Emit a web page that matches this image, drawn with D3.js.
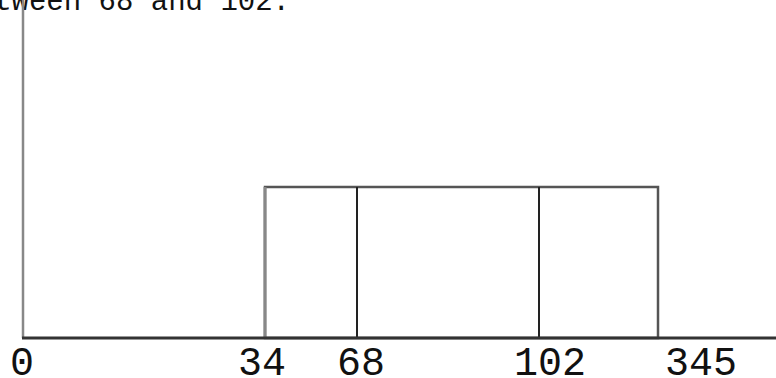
<!DOCTYPE html>
<html>
<head>
<meta charset="utf-8">
<script src="https://cdn.jsdelivr.net/npm/d3@7"></script>
<style>
  body { margin: 0; background: #fff; }
  svg { display: block; }
</style>
</head>
<body>
<div id="chart"></div>
<script>
// Tick values shown under the axis
const tickValues = [0, 34, 68, 102, 345];
// Box edges and inner lines
const boxEdges = [34, 345];
const innerLines = [68, 102];
const caption = "between 68 and 102.";

const width = 776, height = 378;
const baseY = 338, boxTop = 187;

// The picture is not drawn to a linear scale, so map each tick piecewise
const x = d3.scaleLinear()
  .domain(tickValues)
  .range([23, 265, 357, 539, 658]);

// Labels sit a little off their marks in the reference
const labelX = d3.scaleLinear()
  .domain(tickValues)
  .range([22, 262, 361, 550, 701]);

const svg = d3.select("#chart")
  .append("svg")
  .attr("width", width)
  .attr("height", height);

// Caption, clipped by the top edge
svg.append("text")
  .attr("x", 290)
  .attr("y", 10)
  .attr("text-anchor", "end")
  .attr("font-family", "Liberation Mono, DejaVu Sans Mono, monospace")
  .attr("font-size", 29)
  .attr("fill", "#111")
  .text(caption);

// Left vertical axis
svg.append("line")
  .attr("x1", x(0)).attr("x2", x(0))
  .attr("y1", 0).attr("y2", baseY)
  .attr("stroke", "#888")
  .attr("stroke-width", 2.5);

// Box
svg.append("rect")
  .attr("x", x(boxEdges[0]))
  .attr("y", boxTop)
  .attr("width", x(boxEdges[1]) - x(boxEdges[0]))
  .attr("height", baseY - boxTop)
  .attr("fill", "none")
  .attr("stroke", "#555")
  .attr("stroke-width", 2.5);

// Left edge of the box is lighter
svg.append("line")
  .attr("x1", x(boxEdges[0])).attr("x2", x(boxEdges[0]))
  .attr("y1", boxTop).attr("y2", baseY)
  .attr("stroke", "#888")
  .attr("stroke-width", 3);

// Inner lines
svg.selectAll(".inner")
  .data(innerLines)
  .enter()
  .append("line")
  .attr("class", "inner")
  .attr("x1", (d) => x(d)).attr("x2", (d) => x(d))
  .attr("y1", boxTop).attr("y2", baseY)
  .attr("stroke", "#222")
  .attr("stroke-width", 2);

// Baseline
svg.append("line")
  .attr("x1", x(0) - 1).attr("x2", width)
  .attr("y1", baseY).attr("y2", baseY)
  .attr("stroke", "#333")
  .attr("stroke-width", 3);

// Tick labels
svg.selectAll(".tick-label")
  .data(tickValues)
  .enter()
  .append("text")
  .attr("class", "tick-label")
  .attr("x", (d) => labelX(d))
  .attr("y", 375)
  .attr("text-anchor", "middle")
  .attr("font-family", "Liberation Mono, DejaVu Sans Mono, monospace")
  .attr("font-size", 40)
  .attr("fill", "#111")
  .text((d) => d);
</script>
</body>
</html>
